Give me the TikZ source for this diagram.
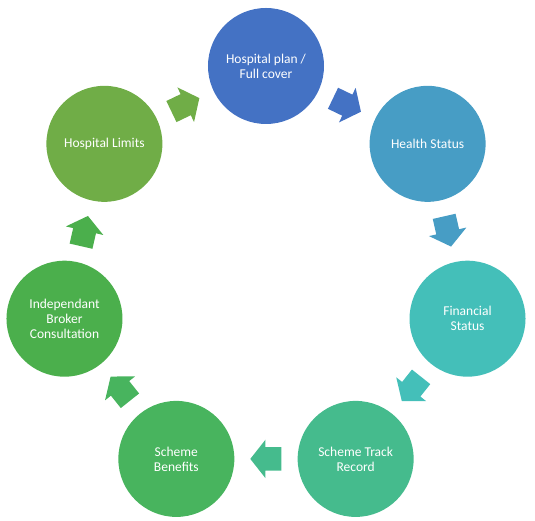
\documentclass[tikz,border=0pt]{standalone}
\usepackage{fontspec}
\setmainfont{Carlito}
\usetikzlibrary{shapes.arrows}
\usetikzlibrary{calc}

\definecolor{c1}{HTML}{4472C4}
\definecolor{c2}{HTML}{479DC5}
\definecolor{c3}{HTML}{44BFB9}
\definecolor{c4}{HTML}{45BB8D}
\definecolor{c5}{HTML}{48B45E}
\definecolor{c6}{HTML}{4BAF4C}
\definecolor{c7}{HTML}{70AD47}

\tikzset{
  stage/.style={circle,minimum size=116pt,inner sep=0pt,text=white,align=center,
    font=\fontsize{13.5}{15}\selectfont},
  turn/.style={single arrow,inner sep=0pt,text height=11.5pt,text depth=11.5pt,
    minimum height=31pt,single arrow head extend=7.5pt,single arrow tip angle=103.5,
    anchor=tail}
}

\begin{document}
\begin{tikzpicture}[x=1pt,y=1pt]
  \useasboundingbox (-266,-248.3) rectangle (269,272.7);
  % the seven stages, clockwise from the top
  \node[stage,fill=c1] (s1) at (90:206.7)      {Hospital plan /\\Full cover};
  \node[stage,fill=c2] (s2) at (38.57:206.7)   {Health Status};
  \node[stage,fill=c3] (s3) at (-12.86:206.7)  {Financial\\Status};
  \node[stage,fill=c4] (s4) at (-64.29:206.7)  {Scheme Track\\Record};
  \node[stage,fill=c5] (s5) at (-115.71:206.7) {Scheme\\Benefits};
  \node[stage,fill=c6] (s6) at (-167.14:206.7) {Independant\\Broker\\Consultation};
  \node[stage,fill=c7] (s7) at (141.43:206.7)  {Hospital Limits};
  % block arrows between the stages
  \foreach \a/\b in {1/2,2/3,3/4,4/5,5/6,6/7,7/1}
    \node[turn,fill=c\a,rotate={-(\a-0.5)*360/7}] (a\a)
      at ($(s\a)!0.5!(s\b)!15.5pt!(s\a)$) {};
\end{tikzpicture}
\end{document}
